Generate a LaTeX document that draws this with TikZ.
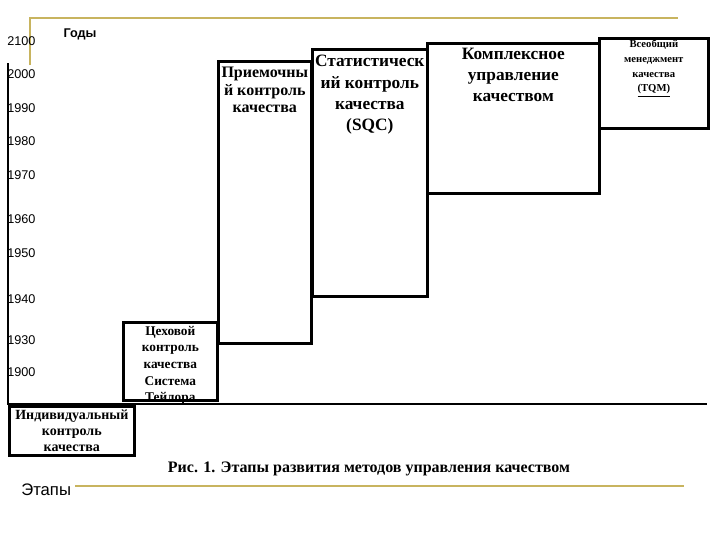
\documentclass[tikz,border=0pt]{standalone}
\usepackage{fontspec}
\setmainfont{Liberation Serif}
\setsansfont{Liberation Sans}
\definecolor{gold}{RGB}{200,180,95}
\tikzset{
    stagebox/.style 2 args={draw,line width=2pt,anchor=north west,inner sep=0pt,
        minimum width=#1*0.75pt,minimum height=#2*0.75pt},
    stagetext/.style={anchor=north,align=center,inner sep=0pt,yshift=-#1*0.75pt},
    year/.style={anchor=west,inner sep=0pt,font=\sffamily\fontsize{9.5}{10}\selectfont},
    goldline/.style={gold,line width=1.5pt}
}
\begin{document}
\begin{tikzpicture}[x=0.75pt,y=-0.75pt]
    \useasboundingbox (0,0) rectangle (720,540);
    \draw [goldline] (30,65) -- (30,18) -- (678,18);
    \draw [goldline] (75,486) -- (684,486);
    \draw [line width=1.8pt] (8,63) -- (8,404) -- (707,404);
    \foreach \yr/\yy in {2100/41,2000/74,1990/108,1980/141,1970/175,
                         1960/219,1950/253,1940/299,1930/340,1900/372}
        \node [year] (y\yr) at (7,\yy) {\yr};
    \node [font=\sffamily\bfseries\fontsize{9.5}{10}\selectfont] (gody) at (80,34) {Годы};
    \node [anchor=west,inner sep=0pt,font=\sffamily\fontsize{12.5}{14}\selectfont] (etapy) at (21,490) {Этапы};
    % stages
    \node [stagebox={125}{49}] (ind) at (8,405) {};
    \node [stagebox={94}{78}] (tsekh) at (122,321) {};
    \node [stagebox={93}{282}] (priem) at (217,60) {};
    \node [stagebox={115}{247}] (stat) at (311,48) {};
    \node [stagebox={172}{150}] (kompl) at (426,42) {};
    \node [stagebox={109}{90}] (tqm) at (598,37) {};
    \node [stagetext=5,font=\bfseries\fontsize{10.5}{12}\selectfont] at (ind.north)
        {Индивидуальный\\контроль\\качества};
    \node [stagetext=5,font=\bfseries\fontsize{10}{12.4}\selectfont] at (tsekh.north)
        {Цеховой\\контроль\\качества\\Система\\Тейлора};
    \node [stagetext=7,font=\bfseries\fontsize{12}{13}\selectfont] at (priem.north)
        {Приемочны\\й контроль\\качества};
    \node [stagetext=7,font=\bfseries\fontsize{13}{16}\selectfont] at (stat.north)
        {Статистическ\\ий контроль\\качества\\(SQC)};
    \node [stagetext=6,font=\bfseries\fontsize{13}{15.8}\selectfont] at (kompl.north)
        {Комплексное\\управление\\качеством};
    \node [stagetext=3,font=\bfseries\fontsize{8}{11}\selectfont] at (tqm.north)
        {Всеобщий\\менеджмент\\качества\\\underline{(TQM)}};
    \node [font=\bfseries\fontsize{12}{13}\selectfont] (caption) at (369,469)
        {Рис. 1. Этапы развития методов управления качеством};
\end{tikzpicture}
\end{document}
